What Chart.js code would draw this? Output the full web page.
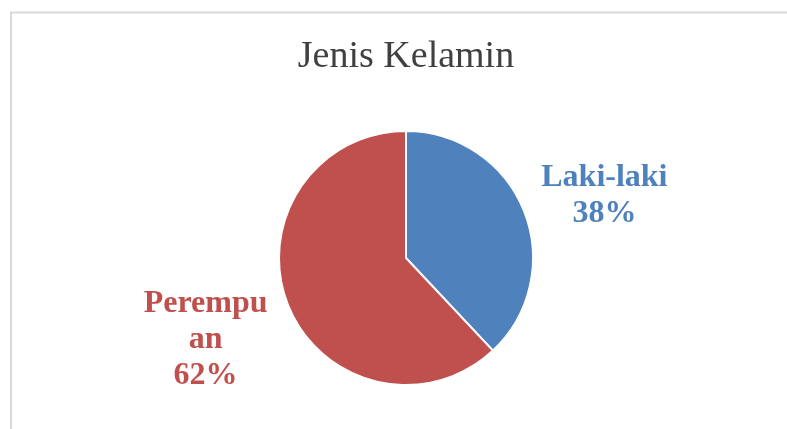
<!DOCTYPE html>
<html>
<head>
<meta charset="utf-8">
<script src="https://cdn.jsdelivr.net/npm/chart.js@4/dist/chart.umd.min.js"></script>
<style>
  html, body { margin: 0; padding: 0; background: #ffffff; }
  #wrap { width: 787px; height: 429px; position: relative; }
</style>
</head>
<body>
<div id="wrap"><canvas id="c" width="787" height="429"></canvas></div>
<script>
const chartTitle = 'Jenis Kelamin';
const categories = ['Laki-laki', 'Perempuan'];
const labelLines = [['Laki-laki'], ['Perempu', 'an']];
const values = [38, 62];
const colors = ['#4F81BD', '#C0504D'];

// label placement (styling, not data)
const labelDistance = 1.68;
const labelNudge = [[0, 16], [-2, 3]];

const frame = {
  id: 'frame',
  beforeDraw(chart) {
    const ctx = chart.ctx;
    ctx.save();
    ctx.fillStyle = '#ffffff';
    ctx.fillRect(0, 0, chart.width, chart.height);
    ctx.strokeStyle = '#d9d9d9';
    ctx.lineWidth = 2;
    ctx.beginPath();
    ctx.moveTo(11, chart.height);
    ctx.lineTo(11, 12.5);
    ctx.lineTo(chart.width, 12.5);
    ctx.stroke();
    ctx.restore();
  }
};

const sliceLabels = {
  id: 'sliceLabels',
  afterDatasetsDraw(chart) {
    const ctx = chart.ctx;
    const meta = chart.getDatasetMeta(0);
    const total = values.reduce((a, b) => a + b, 0);
    ctx.save();
    ctx.font = 'bold 32px "Liberation Serif", serif';
    ctx.textAlign = 'center';
    ctx.textBaseline = 'middle';
    meta.data.forEach((arc, i) => {
      const p = arc.getProps(['x', 'y', 'startAngle', 'endAngle', 'outerRadius'], true);
      const mid = (p.startAngle + p.endAngle) / 2;
      const r = p.outerRadius * labelDistance;
      const cx = p.x + Math.cos(mid) * r + labelNudge[i][0];
      const cy = p.y + Math.sin(mid) * r + labelNudge[i][1];
      const pct = Math.round(values[i] / total * 100) + '%';
      const lines = labelLines[i].concat([pct]);
      const lh = 36;
      const y0 = cy - (lines.length - 1) * lh / 2;
      ctx.fillStyle = colors[i];
      lines.forEach((t, k) => ctx.fillText(t, cx, y0 + k * lh));
    });
    ctx.restore();
  }
};

new Chart(document.getElementById('c'), {
  type: 'pie',
  data: {
    labels: categories,
    datasets: [{
      data: values,
      backgroundColor: colors,
      borderColor: '#ffffff',
      borderWidth: 2
    }]
  },
  options: {
    responsive: false,
    animation: false,
    layout: { padding: { left: 278, right: 253, top: 0, bottom: 43 } },
    plugins: {
      legend: { display: false },
      tooltip: { enabled: false },
      title: {
        display: true,
        text: chartTitle,
        color: '#404040',
        font: { family: '"Liberation Serif", serif', size: 38, weight: 'normal', lineHeight: 1.2 },
        padding: { top: 34, bottom: 50.4 }
      }
    }
  },
  plugins: [frame, sliceLabels]
});
</script>
</body>
</html>
